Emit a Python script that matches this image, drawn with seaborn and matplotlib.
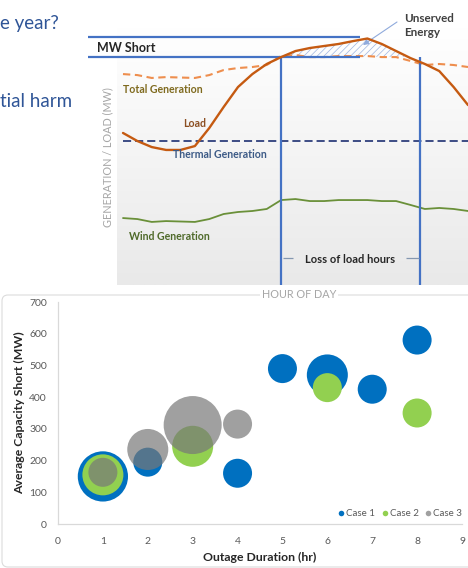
import numpy as np
import pandas as pd
import matplotlib
matplotlib.use("Agg")
import matplotlib.pyplot as plt
import seaborn as sns
from matplotlib.lines import Line2D
from matplotlib.patches import FancyBboxPatch
from matplotlib.colors import LinearSegmentedColormap

# ---- Daily operating profile (MW by hour of day) ----
hours = list(range(25))
load_mw = [1056, 1000, 958, 938, 938, 965, 1090, 1236, 1375, 1465, 1535, 1583, 1625,
           1646, 1660, 1674, 1694, 1712, 1674, 1625, 1576, 1535, 1486, 1375, 1250]
wind_mw = [465, 458, 438, 444, 441, 438, 458, 493, 507, 514, 528, 590, 597,
           583, 583, 590, 590, 590, 583, 583, 556, 528, 535, 528, 514]
total_gen_mw = [1465, 1458, 1438, 1444, 1441, 1438, 1458, 1493, 1507, 1514, 1528, 1590, 1597,
                1583, 1583, 1590, 1590, 1590, 1583, 1583, 1556, 1528, 1535, 1528, 1514]
thermal_mw = 1000
short_top_mw = 1720
short_base_mw = 1585
loss_start_hr = 11.0
loss_end_hr = 20.65

# ---- Outage bubbles: duration (hr), average capacity short (MW), event count ----
case_names = ["Case 1", "Case 2", "Case 3"]
case1_dur = [1, 2, 4, 5, 6, 7, 8]
case1_short = [150, 195, 160, 490, 470, 425, 580]
case1_count = [3, 1, 1, 1, 2, 1, 1]
case2_dur = [1, 3, 6, 8]
case2_short = [155, 245, 430, 350]
case2_count = [2, 2, 1, 1]
case3_dur = [1, 2, 3, 4]
case3_short = [163, 235, 312, 315]
case3_count = [1, 2, 4, 1]
x_ticks = list(range(0, 10))
y_ticks = list(range(0, 800, 100))

case_colors = ["#0070C0", "#92D050", "#787878"]
case_alpha = [1.0, 1.0, 0.7]
bubble_sizes = {1: 436, 2: 872, 3: 1308, 4: 1744}

sns.set_theme(style="white")
plt.rcParams["font.family"] = ["Lato", "DejaVu Sans"]
plt.rcParams["hatch.linewidth"] = 0.5

W, H = 468, 568
fig = plt.figure(figsize=(W / 100, H / 100), dpi=100, facecolor="white")


def P(x, y):
    """figure-pixel position (from top-left) -> figure fraction"""
    return x / W, 1 - y / H


# slide text fragments on the left
slide_blue = "#2F5597"
fig.text(*P(0.5, 29), "e year?", fontsize=13.5, color=slide_blue, va="baseline", ha="left")
fig.text(*P(0.5, 107), "tial harm", fontsize=13.5, color=slide_blue, va="baseline", ha="left")

# chart-area frame of the bubble chart
frame = FancyBboxPatch((2, 1), W + 10, 272, boxstyle="round,pad=0,rounding_size=6",
                       transform=None, facecolor="none", edgecolor="#DCDCDC", lw=0.8)
fig.patches.append(frame)

# ---- Upper panel: generation vs load over the day ----
ax_d = fig.add_axes([117 / W, 1 - 285 / H, 351 / W, 257 / H])
x0, x1, y0, y1 = -0.417, 24, 0, 1785
grad = np.linspace(0, 1, 256).reshape(-1, 1)
ax_d.imshow(grad, extent=[x0, x1, y0, y1], aspect="auto", origin="upper",
            cmap=LinearSegmentedColormap.from_list("bg", ["#FFFFFF", "#E9E9E9"]), zorder=0)
ax_d.set_xlim(x0, x1)
ax_d.set_ylim(y0, y1)
ax_d.axis("off")

prof = pd.DataFrame({"hour": hours, "load": load_mw, "wind": wind_mw, "total": total_gen_mw})
prof["thermal"] = thermal_mw

line_blue = "#4472C4"
sns.lineplot(data=prof, x="hour", y="wind", ax=ax_d, color="#6A9039", lw=1.3, zorder=3)
sns.lineplot(data=prof, x="hour", y="thermal", ax=ax_d, color="#2E3F7C", lw=1.3, zorder=3)
ax_d.lines[-1].set_dashes([4.5, 2.2])
sns.lineplot(data=prof, x="hour", y="total", ax=ax_d, color="#EE8E4E", lw=1.5, zorder=3)
ax_d.lines[-1].set_dashes([3.5, 2.2])
sns.lineplot(data=prof, x="hour", y="load", ax=ax_d, color="#C55A11", lw=1.7, zorder=5)
ax_d.set_xlim(x0, x1)
ax_d.set_ylim(y0, y1)

# unserved energy: load above the available generation level
load_arr = np.array(load_mw, dtype=float)
ax_d.fill_between(hours, short_base_mw, load_arr, where=load_arr >= short_base_mw,
                  interpolate=True, facecolor="none", edgecolor="#9DB4E0", hatch="/////",
                  lw=0, zorder=2)

# MW short markers and loss-of-load window
ax_d.hlines([short_top_mw, short_base_mw], -2.435, 16.49, colors=line_blue, lw=1.6,
            clip_on=False, zorder=4)
ax_d.vlines([loss_start_hr, loss_end_hr], 0, short_base_mw, colors=line_blue, lw=1.6, zorder=4)
bracket_mw = 187
ax_d.hlines([bracket_mw, bracket_mw], [loss_start_hr + 0.1, 19.7], [11.85, loss_end_hr - 0.05],
            colors="#8497B0", lw=0.9, zorder=4)
ax_d.set_xlabel("")
ax_d.set_ylabel("")

fig.text(*P(97, 52.5), "MW Short", fontsize=9, fontweight="bold", color="#262626", va="baseline")
fig.text(*P(404, 21.5), "Unserved", fontsize=8.4, fontweight="bold", color="#404040", va="baseline")
fig.text(*P(404, 36.5), "Energy", fontsize=8.4, fontweight="bold", color="#404040", va="baseline")
ax_d.annotate("", xy=P(363, 45), xytext=P(397, 22), xycoords="figure fraction",
              textcoords="figure fraction",
              arrowprops=dict(arrowstyle="-|>", color="#8FAADC", lw=0.8, mutation_scale=8,
                              shrinkA=0, shrinkB=0))

fig.text(*P(123, 93), "Total Generation", fontsize=7.6, fontweight="bold", color="#7F6A1E", va="baseline")
fig.text(*P(183, 127), "Load", fontsize=7.6, fontweight="bold", color="#8C4F22", va="baseline")
fig.text(*P(173, 157.5), "Thermal Generation", fontsize=7.6, fontweight="bold", color="#3C5A86", va="baseline")
fig.text(*P(129, 240.5), "Wind Generation", fontsize=7.6, fontweight="bold", color="#4F6A2A", va="baseline")
fig.text(*P(350, 262.5), "Loss of load hours", fontsize=8, fontweight="bold", color="#262626",
         va="baseline", ha="center")
fig.text(*P(107.5, 157.5), "GENERATION / LOAD (MW)", fontsize=7.8, color="#A6A6A6",
         rotation=90, ha="center", va="center")
fig.text(*P(299, 298), "HOUR OF DAY", fontsize=7.8, color="#A6A6A6", ha="center", va="baseline",
         bbox=dict(facecolor="white", edgecolor="none", pad=1.0))

# ---- Lower panel: outage bubble chart ----
ax = fig.add_axes([58 / W, 1 - 524 / H, 404 / W, 222 / H])
cases = [(case1_dur, case1_short, case1_count), (case2_dur, case2_short, case2_count),
         (case3_dur, case3_short, case3_count)]
for (dur, short, cnt), col, a in zip(cases, case_colors, case_alpha):
    df = pd.DataFrame({"dur": dur, "short": short, "n": cnt})
    sns.scatterplot(data=df, x="dur", y="short", size="n", sizes=bubble_sizes,
                    color=col, alpha=a, linewidth=0, legend=False, ax=ax, zorder=3)

ax.set_xlim(0, 9)
ax.set_ylim(0, 700)
ax.set_xticks(x_ticks)
ax.set_yticks(y_ticks)
ax.tick_params(axis="both", length=0, labelsize=7.5, labelcolor="#595959")
ax.tick_params(axis="x", pad=9)
ax.tick_params(axis="y", pad=8)
for side in ["top", "right"]:
    ax.spines[side].set_visible(False)
for side in ["left", "bottom"]:
    ax.spines[side].set_color("#D9D9D9")
    ax.spines[side].set_linewidth(0.9)
ax.set_facecolor("none")

ax.set_xlabel("Outage Duration (hr)", fontsize=8.8, fontweight="bold", color="#262626")
ax.set_ylabel("Average Capacity Short (MW)", fontsize=8.8, fontweight="bold", color="#262626")
ax.xaxis.set_label_coords(0.5, (524 - 557) / 222)
ax.xaxis.label.set_va("center")
ax.yaxis.set_label_coords((20 - 58) / 404, 0.5)
ax.yaxis.label.set_va("center")

handles = [Line2D([], [], marker="o", ls="none", markersize=4, color=c, alpha=a,
                  markeredgewidth=0) for c, a in zip(case_colors, case_alpha)]
ax.legend(handles, case_names, loc="center right", bbox_to_anchor=(1.0, (524 - 514) / 222),
          ncol=3, frameon=False, fontsize=7, labelcolor="#595959", handletextpad=0.1,
          columnspacing=0.6, handlelength=0.8, borderpad=0, borderaxespad=0)

fig.savefig("out.png", dpi=100, facecolor="white")
